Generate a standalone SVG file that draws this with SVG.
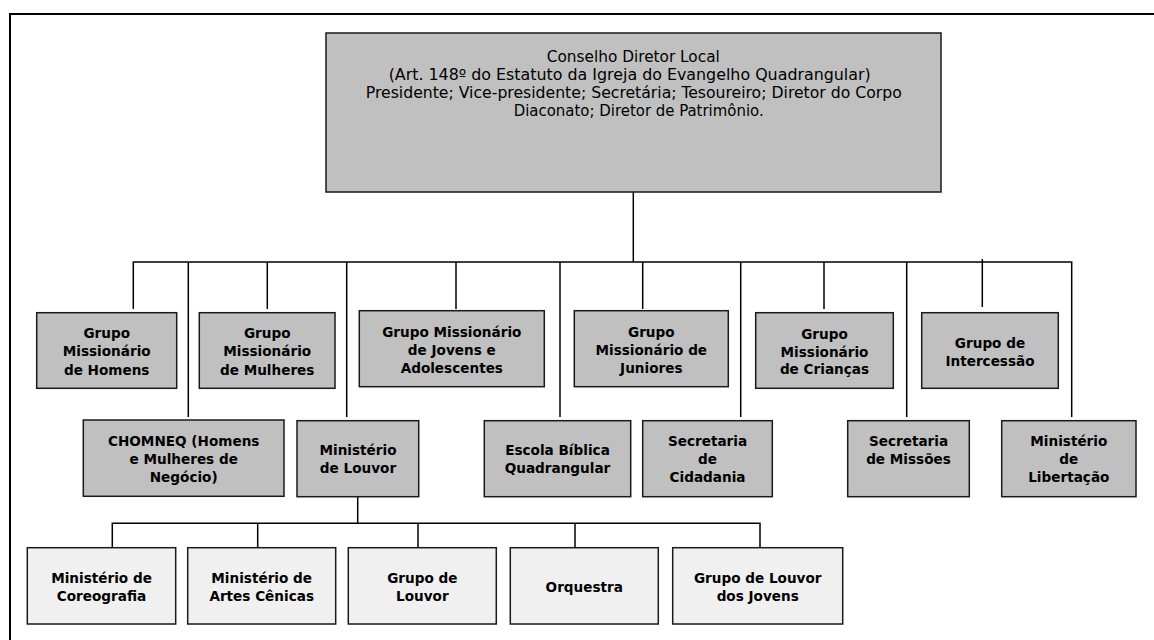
<svg xmlns="http://www.w3.org/2000/svg" width="1154" height="640" viewBox="0 0 1154 640">
<style>
.frame{fill:none;stroke:#000;stroke-width:2}
.top{fill:#c0c0c0;stroke:#1a1a1a;stroke-width:1.5}
.mid{fill:#c0c0c0;stroke:#1a1a1a;stroke-width:1.5}
.low{fill:#f0f0f0;stroke:#1a1a1a;stroke-width:1.5}
.reg{font-family:"DejaVu Sans Condensed","DejaVu Sans",sans-serif;font-size:15.5px;fill:#000;text-anchor:middle}
.b{font-family:"DejaVu Sans","Verdana",sans-serif;font-size:13.6px;font-weight:bold;fill:#000;text-anchor:middle}
.con{fill:none;stroke:#000;stroke-width:1.5}
</style>
<rect width="1154" height="640" fill="#fff"/>
<path class="frame" d="M10,640 V14 H1154"/>
<g id="connectors" class="con">
<path d="M633.3,192 V262"/>
<path d="M133.3,309 V262 H1071.7 V417"/>
<path d="M188.3,262 V417"/>
<path d="M267.3,262 V309"/>
<path d="M346.7,262 V417"/>
<path d="M456,262 V309"/>
<path d="M560,262 V417"/>
<path d="M642.7,262 V309"/>
<path d="M740.7,262 V417"/>
<path d="M824,262 V309"/>
<path d="M906.7,262 V417"/>
<path d="M982.3,259 V307"/>
<path d="M357.7,497 V523.3"/>
<path d="M112.3,547 V523.3 H760 V547"/>
<path d="M257.7,523.3 V547"/>
<path d="M418,523.3 V547"/>
<path d="M575,523.3 V547"/>
</g>
<g id="n-conselho">
<rect class="top" x="326" y="33" width="615" height="159"/>
<text class="reg" x="633.3" y="62" textLength="173" lengthAdjust="spacingAndGlyphs">Conselho Diretor Local</text>
<text class="reg" x="629.7" y="80" textLength="482" lengthAdjust="spacingAndGlyphs">(Art. 148º do Estatuto da Igreja do Evangelho Quadrangular)</text>
<text class="reg" x="633.8" y="98" textLength="536" lengthAdjust="spacingAndGlyphs">Presidente; Vice-presidente; Secretária; Tesoureiro; Diretor do Corpo</text>
<text class="reg" x="638.7" y="116" textLength="250" lengthAdjust="spacingAndGlyphs">Diaconato; Diretor de Patrimônio.</text>
</g>
<g id="n-homens">
<rect class="mid" x="36.7" y="312.7" width="140" height="75.6"/>
<text class="b" x="106.7" y="337.5">Grupo</text>
<text class="b" x="106.7" y="356">Missionário</text>
<text class="b" x="106.7" y="374.5">de Homens</text>
</g>
<g id="n-mulheres">
<rect class="mid" x="199.3" y="312.7" width="135.7" height="75.6"/>
<text class="b" x="267.2" y="337.5">Grupo</text>
<text class="b" x="267.2" y="356">Missionário</text>
<text class="b" x="267.2" y="374.5">de Mulheres</text>
</g>
<g id="n-jovens">
<rect class="mid" x="359.3" y="310.7" width="185" height="76"/>
<text class="b" x="451.8" y="336.7">Grupo Missionário</text>
<text class="b" x="451.8" y="355">de Jovens e</text>
<text class="b" x="451.8" y="373">Adolescentes</text>
</g>
<g id="n-juniores">
<rect class="mid" x="574.3" y="310.7" width="154" height="76"/>
<text class="b" x="651.3" y="336.7">Grupo</text>
<text class="b" x="651.3" y="355">Missionário de</text>
<text class="b" x="651.3" y="373">Juniores</text>
</g>
<g id="n-criancas">
<rect class="mid" x="755.7" y="312.7" width="137.6" height="75.6"/>
<text class="b" x="824.5" y="338.5">Grupo</text>
<text class="b" x="824.5" y="356.5">Missionário</text>
<text class="b" x="824.5" y="374">de Crianças</text>
</g>
<g id="n-intercessao">
<rect class="mid" x="921.7" y="312.7" width="136.6" height="75.6"/>
<text class="b" x="990" y="348.3">Grupo de</text>
<text class="b" x="990" y="366">Intercessão</text>
</g>
<g id="n-chomneq">
<rect class="mid" x="83.3" y="420" width="200.7" height="76.3"/>
<text class="b" x="183.7" y="446">CHOMNEQ (Homens</text>
<text class="b" x="183.7" y="464">e Mulheres de</text>
<text class="b" x="183.7" y="481.7">Negócio)</text>
</g>
<g id="n-louvor">
<rect class="mid" x="297" y="420.7" width="121.7" height="76"/>
<text class="b" x="358" y="455">Ministério</text>
<text class="b" x="358" y="472.7">de Louvor</text>
</g>
<g id="n-escola">
<rect class="mid" x="484.3" y="420.7" width="146.4" height="76"/>
<text class="b" x="557.5" y="455">Escola Bíblica</text>
<text class="b" x="557.5" y="473">Quadrangular</text>
</g>
<g id="n-cidadania">
<rect class="mid" x="642.7" y="420.7" width="129.6" height="76"/>
<text class="b" x="707.5" y="446">Secretaria</text>
<text class="b" x="707.5" y="464">de</text>
<text class="b" x="707.5" y="482">Cidadania</text>
</g>
<g id="n-missoes">
<rect class="mid" x="847.7" y="420.7" width="121.6" height="76"/>
<text class="b" x="908.5" y="446">Secretaria</text>
<text class="b" x="908.5" y="464">de Missões</text>
</g>
<g id="n-libertacao">
<rect class="mid" x="1001.7" y="420.7" width="134.3" height="76"/>
<text class="b" x="1068.8" y="446">Ministério</text>
<text class="b" x="1068.8" y="464">de</text>
<text class="b" x="1068.8" y="482">Libertação</text>
</g>
<g id="n-coreografia">
<rect class="low" x="27.3" y="547.7" width="148.4" height="76.3"/>
<text class="b" x="101.5" y="583.3">Ministério de</text>
<text class="b" x="101.5" y="600.7">Coreografia</text>
</g>
<g id="n-artes">
<rect class="low" x="187.7" y="547.7" width="148" height="76.3"/>
<text class="b" x="261.7" y="583.3">Ministério de</text>
<text class="b" x="261.7" y="600.7">Artes Cênicas</text>
</g>
<g id="n-grupo-louvor">
<rect class="low" x="348.3" y="547.7" width="148" height="76.3"/>
<text class="b" x="422.3" y="583.3">Grupo de</text>
<text class="b" x="422.3" y="600.7">Louvor</text>
</g>
<g id="n-orquestra">
<rect class="low" x="510.3" y="547.7" width="148" height="76.3"/>
<text class="b" x="584.3" y="591.7">Orquestra</text>
</g>
<g id="n-louvor-jovens">
<rect class="low" x="672.7" y="547.7" width="170" height="76.3"/>
<text class="b" x="757.7" y="583.3">Grupo de Louvor</text>
<text class="b" x="757.7" y="600.7">dos Jovens</text>
</g>
</svg>
